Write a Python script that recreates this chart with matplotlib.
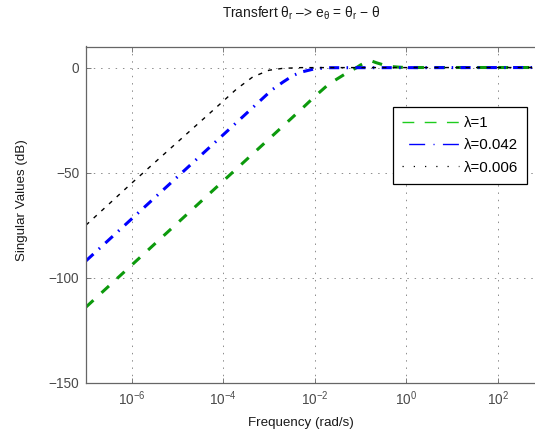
import matplotlib
matplotlib.use('Agg')
import matplotlib.pyplot as plt
from matplotlib.lines import Line2D
from matplotlib.ticker import NullLocator

plt.rcParams['font.family'] = ['Liberation Sans', 'DejaVu Sans']
plt.rcParams['mathtext.fontset'] = 'custom'
plt.rcParams['mathtext.rm'] = 'Liberation Sans'
plt.rcParams['mathtext.it'] = 'Liberation Sans'
plt.rcParams['mathtext.bf'] = 'Liberation Sans:bold'
plt.rcParams['mathtext.sf'] = 'Liberation Sans'

# ---- data ----
freq_l1 = [1e-7, 1e-6, 1e-5, 1e-4, 1e-3, 5e-3, 1e-2, 2e-2, 3e-2, 5e-2, 8e-2,
           0.1, 0.14, 0.18, 0.22, 0.3, 0.4, 0.7, 1.0, 1e3]
sv_l1 = [-114, -94, -74, -54, -34, -20, -13.8, -8.0, -5.6, -2.6, -0.2,
         1.2, 2.8, 3.0, 2.3, 1.4, 0.6, 0.15, 0.0, 0.0]

freq_l2 = [1e-7, 1e-6, 1e-5, 1e-4, 4.2e-4, 1.15e-3, 2e-3, 3.3e-3, 5e-3,
           1e-2, 2e-2, 1e3]
sv_l2 = [-92, -72, -52, -32, -19.5, -10.7, -7.0, -3.9, -2.2,
         -0.6, -0.1, 0.0]

freq_l3 = [1e-7, 1e-6, 1e-5, 1e-4, 1.94e-4, 4.4e-4, 1e-3, 2e-3, 5e-3, 1e3]
sv_l3 = [-75, -55, -35.5, -16, -10.3, -4.5, -1.3, -0.4, -0.05, 0.0]

labels = ['λ=1', 'λ=0.042', 'λ=0.006']
xticks = [1e-6, 1e-4, 1e-2, 1e0, 1e2]
yticks = [-150, -100, -50, 0]

green = '#0c9a0c'
blue = '#0000ff'
black = '#000000'

W, H = 535, 437
fig = plt.figure(figsize=(W / 100, H / 100), dpi=100)
ax_left, ax_top, ax_bottom = 86, 46.5, 382.7
px_per_dec = 45.75
ax = fig.add_axes([ax_left / W, 1 - ax_bottom / H,
                   10 * px_per_dec / W, (ax_bottom - ax_top) / H])

ax.semilogx(freq_l1, sv_l1, color=green, lw=2.2,
            linestyle=(0, (3.3, 3.6)), dash_capstyle='butt')
ax.semilogx(freq_l2, sv_l2, color=blue, lw=2.2,
            linestyle=(0, (3.3, 2.4, 0.5, 2.4)), dash_capstyle='butt')
ax.semilogx(freq_l3, sv_l3, color=black, lw=1.0,
            linestyle=(0, (3, 4.5)), dash_capstyle='butt')

ax.set_xlim(1e-7, 1e3)
ax.set_ylim(-150, 10)
ax.set_xticks(xticks)
ax.xaxis.set_minor_locator(NullLocator())
ax.set_yticks(yticks)

ax.grid(True, which='major', linestyle=(0, (1.5, 6)), color='#8c8c8c', lw=0.7)

spine_col = '#666666'
for s in ax.spines.values():
    s.set_color(spine_col)
    s.set_linewidth(0.9)

ax.tick_params(axis='both', which='major', direction='in', top=True, right=True,
               length=3.5, width=0.6, color=spine_col, labelcolor='#4a4a4a',
               labelsize=9.8)
ax.tick_params(axis='x', pad=4.5)
ax.tick_params(axis='y', pad=5)

# labels and title
fig.text(301 / W, 1 - 422.7 / H, 'Frequency (rad/s)', ha='center', va='center',
         fontsize=9.6, color='#1a1a1a')
fig.text(21.7 / W, 1 - 200 / H, 'Singular Values (dB)', ha='center', va='center',
         rotation=90, fontsize=9.6, color='#1a1a1a')
fig.text(301 / W, 1 - 13 / H,
         'Transfert $\\theta_r$ –> $e_\\theta$ = $\\theta_r$ − θ',
         ha='center', va='center', fontsize=9.9, color='#1a1a1a')

handles = [
    Line2D([], [], color='#1ecc1e', lw=1.0, linestyle=(0, (8.5, 7.5))),
    Line2D([], [], color=blue, lw=1.0, linestyle=(2, (0.8, 6, 11.5, 6))),
    Line2D([], [], color=black, lw=0.9, linestyle=(0, (1, 8))),
]
leg = ax.legend(handles, labels, loc='upper right',
                bbox_to_anchor=(527 / W, 1 - 107 / H),
                bbox_transform=fig.transFigure, borderaxespad=0,
                fontsize=10.8, handlelength=3.75, handletextpad=0.35,
                borderpad=0.6, labelspacing=0.55, fancybox=False,
                framealpha=1, edgecolor='black')
leg.get_frame().set_linewidth(0.9)

fig.savefig('out.png', dpi=100)
